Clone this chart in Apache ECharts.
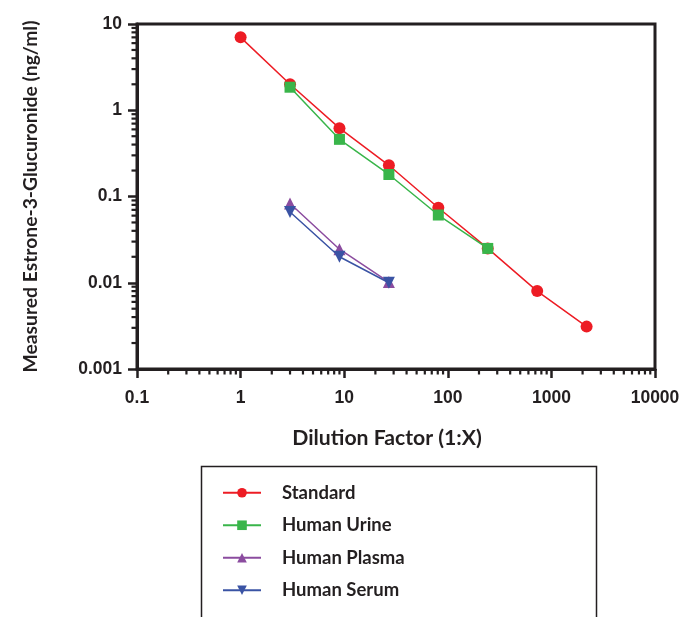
<!DOCTYPE html>
<html><head><meta charset="utf-8">
<script src="https://cdn.jsdelivr.net/npm/echarts@6/dist/echarts.min.js"></script>
<style>html,body{margin:0;padding:0;background:#fff}#c{width:686px;height:617px}</style>
</head><body><div id="c"></div>
<script>
// ---- data ----
const standardX = [1, 3, 9, 27, 81, 243, 729, 2187];
const standardY = [7.0, 2.0, 0.62, 0.23, 0.074, 0.025, 0.008, 0.0031];
const urineX = [3, 9, 27, 81, 243];
const urineY = [1.85, 0.46, 0.18, 0.061, 0.025];
const plasmaX = [3, 9, 27];
const plasmaY = [0.083, 0.0245, 0.0102];
const serumX = [3, 9, 27];
const serumY = [0.066, 0.0200, 0.0100];
const xTickLabels = ['0.1', '1', '10', '100', '1000', '10000'];
const yTickLabels = ['0.001', '0.01', '0.1', '1', '10'];
const minorMultipliers = [2, 3, 4, 5, 6, 7, 8, 9];
const xDecades = [0.1, 1, 10, 100, 1000];
const yDecades = [0.001, 0.01, 0.1, 1];

const xMin = 0.1, xMax = 10000, yMin = 0.001, yMax = 10;
const AX = '#231f20';
const pairs = (xs, ys) => xs.map((x, i) => [x, ys[i]]);

const chart = echarts.init(document.getElementById('c'));
const lineSeries = (name, xs, ys, color, symbol, size, rotate) => ({
  name, type: 'line', data: pairs(xs, ys), symbol, symbolSize: size, symbolRotate: rotate || 0,
  lineStyle: { color, width: 1.5 }, itemStyle: { color }, z: 3
});
chart.setOption({
  animation: false,
  grid: { left: 137, right: 31, top: 24, bottom: 248, show: true, borderColor: AX, borderWidth: 3, backgroundColor: 'transparent' },
  xAxis: {
    type: 'log', min: xMin, max: xMax, logBase: 10,
    name: 'Dilution Factor (1:X)', nameLocation: 'middle', nameGap: 59,
    nameTextStyle: { fontFamily: 'Lato', fontWeight: 'bold', fontSize: 21.2, color: AX, padding: [0, 18, 0, 0] },
    axisLine: { show: true, lineStyle: { color: AX, width: 3 } },
    axisTick: { show: true, length: 9, lineStyle: { color: AX, width: 2.5 } },
    minorTick: { show: false },
    splitLine: { show: false },
    axisLabel: { margin: 20, fontFamily: 'Liberation Sans', fontWeight: 'bold', fontSize: 17.5, color: AX,
      formatter: v => xTickLabels[Math.round(Math.log10(v) + 1)] }
  },
  yAxis: {
    type: 'log', min: yMin, max: yMax, logBase: 10,
    name: 'Measured Estrone-3-Glucuronide (ng/ml)', nameLocation: 'middle', nameGap: 97,
    nameTextStyle: { fontFamily: 'Lato', fontWeight: 'bold', fontSize: 19.3, color: AX },
    axisLine: { show: true, lineStyle: { color: AX, width: 3 } },
    axisTick: { show: true, length: 9, lineStyle: { color: AX, width: 2.5 } },
    minorTick: { show: false },
    splitLine: { show: false },
    axisLabel: { margin: 15, fontFamily: 'Liberation Sans', fontWeight: 'bold', fontSize: 17.5, color: AX,
      formatter: v => yTickLabels[Math.round(Math.log10(v) + 3)] }
  },
  legend: {
    data: ['Standard', 'Human Urine', 'Human Plasma', 'Human Serum'],
    orient: 'vertical', left: 217, top: 477, itemWidth: 38, itemHeight: 12, itemGap: 11,
    textStyle: { fontFamily: 'Lato', fontWeight: 'bold', fontSize: 18.5, color: AX, lineHeight: 21.5, padding: [0, 0, 0, 16] }
  },
  series: [
    lineSeries('Standard', standardX, standardY, '#ed1c24', 'circle', 12),
    lineSeries('Human Urine', urineX, urineY, '#39b54a', 'rect', 11),
    lineSeries('Human Plasma', plasmaX, plasmaY, '#8b4c9f', 'triangle', 12),
    lineSeries('Human Serum', serumX, serumY, '#3a53a4', 'triangle', 12, 180)
  ]
});

// minor log ticks (2..9 per decade), placed through the chart's own scales
const g = [{ type: 'rect', left: 199, top: 464, shape: { width: 395, height: 200 },
  style: { fill: 'none', stroke: AX, lineWidth: 1.5 } }];
xDecades.forEach(d => minorMultipliers.forEach(m => {
  const p = chart.convertToPixel({ gridIndex: 0 }, [d * m, yMin]);
  g.push({ type: 'line', z: 10, shape: { x1: p[0], y1: p[1], x2: p[0], y2: p[1] + 5.5 }, style: { stroke: AX, lineWidth: 2.2 } });
}));
yDecades.forEach(d => minorMultipliers.forEach(m => {
  const p = chart.convertToPixel({ gridIndex: 0 }, [xMin, d * m]);
  g.push({ type: 'line', z: 10, shape: { x1: p[0], y1: p[1], x2: p[0] - 5.5, y2: p[1] }, style: { stroke: AX, lineWidth: 2.2 } });
}));
chart.setOption({ graphic: g });
</script></body></html>
